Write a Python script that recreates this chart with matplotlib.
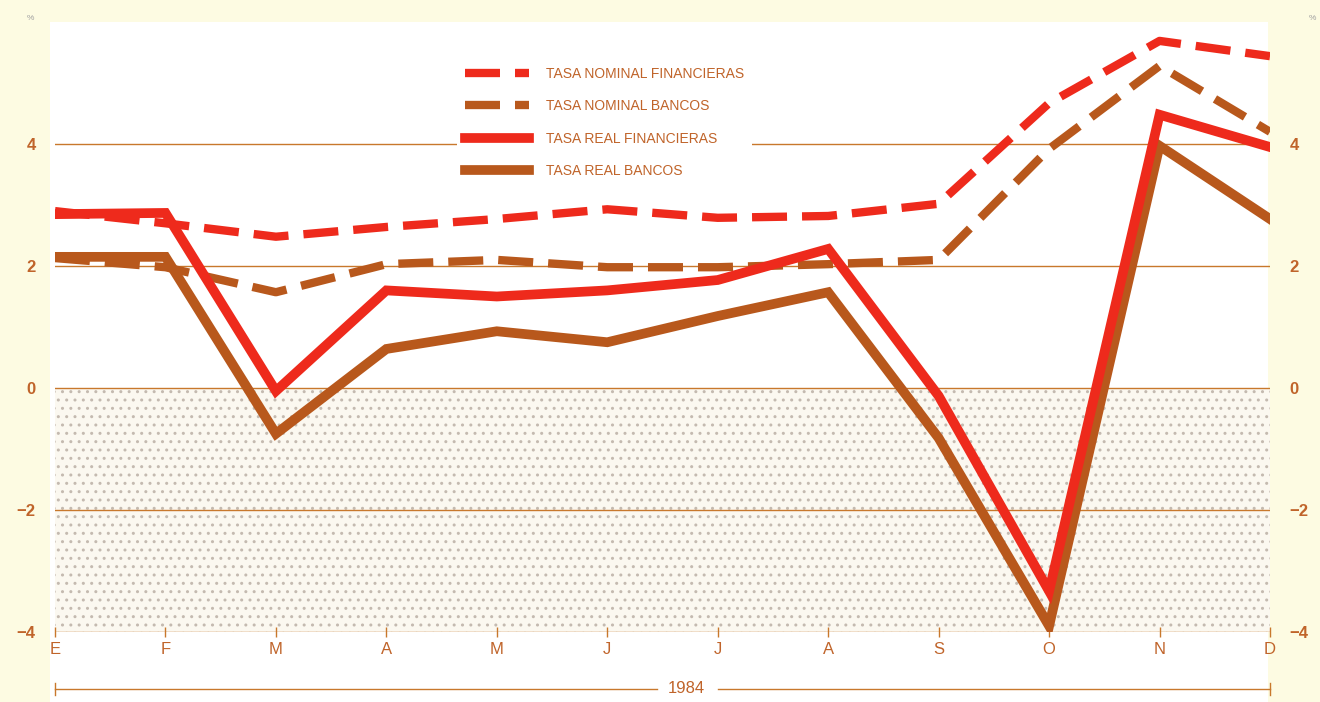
import numpy as np
import matplotlib.pyplot as plt

# data (% per month, 1984)
meses = ['E', 'F', 'M', 'A', 'M', 'J', 'J', 'A', 'S', 'O', 'N', 'D']
nominal_fin = [2.90, 2.70, 2.48, 2.64, 2.77, 2.93, 2.79, 2.82, 3.02, 4.67, 5.69, 5.44]
nominal_ban = [2.13, 1.98, 1.57, 2.03, 2.10, 1.98, 1.98, 2.03, 2.10, 3.92, 5.28, 4.20]
real_fin = [2.85, 2.87, -0.05, 1.60, 1.50, 1.60, 1.77, 2.28, -0.13, -3.33, 4.48, 3.95]
real_ban = [2.15, 2.15, -0.75, 0.64, 0.93, 0.75, 1.18, 1.57, -0.82, -3.90, 3.97, 2.77]
yticks = [-4, -2, 0, 2, 4]
ytick_labels = ['\u22124', '\u22122', '0', '2', '4']
anio = '1984'

RED = '#ee2a1c'
BROWN = '#b8581c'
GRID = '#c8782c'
TXT = '#c0642a'

plt.rcParams['hatch.linewidth'] = 1.0
plt.rcParams['font.family'] = ['Liberation Sans', 'DejaVu Sans']

fig = plt.figure(figsize=(13.2, 7.02), dpi=100)
fig.patch.set_facecolor('#fdfbe2')

# white paper area behind the chart
bg = fig.add_axes([50 / 1320, 0, 1218 / 1320, 1 - 22 / 702], zorder=0)
bg.set_facecolor('white')
bg.set_xticks([])
bg.set_yticks([])
for s in bg.spines.values():
    s.set_visible(False)

ax = fig.add_axes([55 / 1320, 70 / 702, 1215 / 1320, 610 / 702], zorder=1)
ax.patch.set_alpha(0)
x = np.arange(len(meses))
ax.set_xlim(0, 11)
ax.set_ylim(-4, 6)

# stippled negative zone
ax.fill_between([0, 11], -4, 0, facecolor='#fbf8f0', edgecolor='#c4bab0',
                hatch='..', linewidth=0, zorder=1)

for v in yticks:
    ax.axhline(v, color=GRID, lw=1.0, zorder=2)

ax.plot(x, nominal_fin, color=RED, lw=6, dashes=(4.2, 1.8), dash_capstyle='butt',
        label='TASA NOMINAL FINANCIERAS', zorder=4)
ax.plot(x, nominal_ban, color=BROWN, lw=6, dashes=(4.2, 1.8), dash_capstyle='butt',
        label='TASA NOMINAL BANCOS', zorder=4)
ax.plot(x, real_fin, color=RED, lw=7, solid_joinstyle='miter',
        label='TASA REAL FINANCIERAS', zorder=5)
ax.plot(x, real_ban, color=BROWN, lw=7, solid_joinstyle='miter',
        label='TASA REAL BANCOS', zorder=4)

for s in ax.spines.values():
    s.set_visible(False)

ax.set_xticks(x)
ax.set_xticklabels(meses)
ax.tick_params(axis='x', direction='inout', length=7, width=1, color=GRID,
               labelcolor=TXT, labelsize=12, pad=4)
ax.set_yticks(yticks)
ax.set_yticklabels(ytick_labels)
ax.tick_params(axis='y', length=0, labelcolor=TXT, labelsize=12, pad=14,
               labelright=True)
for lab in ax.get_yticklabels():
    lab.set_fontweight('bold')

# % markers
fig.text(30 / 1320, 1 - 20 / 702, '%', fontsize=6, color='#a0a0a0', ha='center')
fig.text(1312 / 1320, 1 - 20 / 702, '%', fontsize=6, color='#a0a0a0', ha='center')

# year bracket
yb = -4.93
ax.plot([0, 5.45], [yb, yb], color=GRID, lw=1, clip_on=False)
ax.plot([6.0, 11], [yb, yb], color=GRID, lw=1, clip_on=False)
ax.plot([0, 0], [yb - 0.1, yb + 0.1], color=GRID, lw=1, clip_on=False)
ax.plot([11, 11], [yb - 0.1, yb + 0.1], color=GRID, lw=1, clip_on=False)
ax.text(5.72, yb, anio, ha='center', va='center', color=TXT, fontsize=12)

leg = ax.legend(loc='upper left', bbox_to_anchor=(0.325, 0.952), fontsize=10,
                frameon=True, facecolor='white', edgecolor='none', framealpha=1,
                handlelength=4.6, handletextpad=1.2, labelspacing=1.33,
                borderpad=0.6, fancybox=False)
for t in leg.get_texts():
    t.set_color(TXT)
leg.set_zorder(3)

fig.savefig('out.png', dpi=100, facecolor=fig.get_facecolor())
